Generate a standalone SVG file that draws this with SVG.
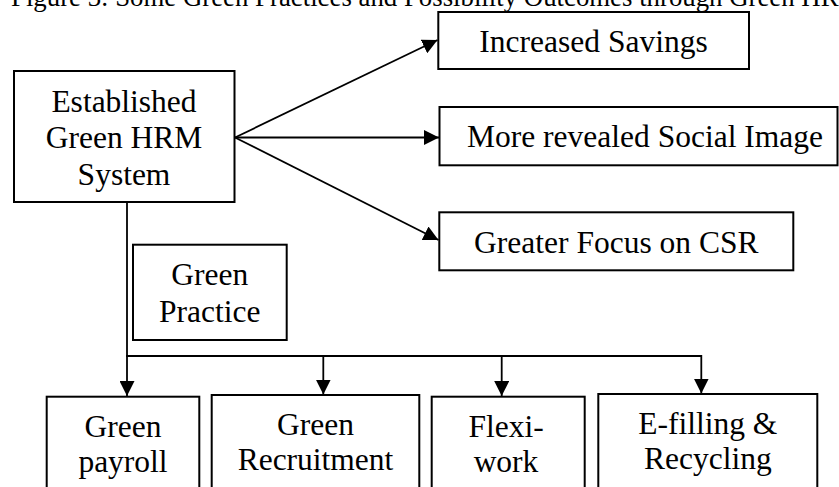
<svg xmlns="http://www.w3.org/2000/svg" width="839" height="487" viewBox="0 0 839 487">
<style>
  .box { fill: #ffffff; stroke: #000000; stroke-width: 2; }
  .lbl { font-family: "Liberation Serif", "Times New Roman", serif; font-size: 31.5px; fill: #000000; text-anchor: middle; }
  .title { font-family: "Liberation Serif", "Times New Roman", serif; font-size: 26.8px; fill: #000000; }
  .con { fill: none; stroke: #000000; stroke-width: 1.8; }
  .arr { marker-end: url(#ah); }
</style>
<defs>
  <marker id="ah" markerUnits="userSpaceOnUse" markerWidth="15" markerHeight="15" viewBox="0 0 15 15" refX="15" refY="7.5" orient="auto">
    <path d="M0,0 L15,7.5 L0,15 z" fill="#000000"/>
  </marker>
</defs>
<rect width="839" height="487" fill="#ffffff"/>
<text class="title" x="11" y="6">Figure 3: Some Green Practices and Possibility Outcomes through Green HRM</text>

<g id="connectors">
  <line class="con arr" x1="235" y1="137.5" x2="437.5" y2="40"/>
  <line class="con arr" x1="235" y1="137.5" x2="439" y2="137.5"/>
  <line class="con arr" x1="235" y1="137.5" x2="438.5" y2="240"/>
  <line class="con arr" x1="127" y1="202" x2="127" y2="396"/>
  <line class="con" x1="126" y1="356" x2="702" y2="356"/>
  <line class="con arr" x1="323.3" y1="356" x2="323.3" y2="394.5"/>
  <line class="con arr" x1="501.7" y1="355" x2="501.7" y2="396"/>
  <line class="con arr" x1="701.3" y1="355" x2="701.3" y2="393.5"/>
</g>

<g id="established">
  <rect class="box" x="14" y="71" width="220.5" height="131"/>
  <text class="lbl" x="124" y="111.5">Established</text>
  <text class="lbl" x="124" y="148">Green HRM</text>
  <text class="lbl" x="124" y="185">System</text>
</g>

<g id="increased-savings">
  <rect class="box" x="438.3" y="12" width="310.7" height="57"/>
  <text class="lbl" x="593.5" y="51.5">Increased Savings</text>
</g>

<g id="social-image">
  <rect class="box" x="439.5" y="107" width="398" height="58.3"/>
  <text class="lbl" x="645" y="146.7">More revealed Social Image</text>
</g>

<g id="csr">
  <rect class="box" x="439.3" y="212.3" width="354" height="58"/>
  <text class="lbl" x="616.3" y="252.7">Greater Focus on CSR</text>
</g>

<g id="green-practice">
  <rect class="box" x="133" y="244.7" width="153.7" height="95.3"/>
  <text class="lbl" x="209.8" y="285">Green</text>
  <text class="lbl" x="209.8" y="321.7">Practice</text>
</g>

<g id="green-payroll">
  <rect class="box" x="46.7" y="396.7" width="152.6" height="110"/>
  <text class="lbl" x="123" y="436.7">Green</text>
  <text class="lbl" x="123" y="471.7">payroll</text>
</g>

<g id="green-recruitment">
  <rect class="box" x="211.7" y="395" width="207.6" height="110"/>
  <text class="lbl" x="315.5" y="435">Green</text>
  <text class="lbl" x="315.5" y="470">Recruitment</text>
</g>

<g id="flexi-work">
  <rect class="box" x="431.7" y="396.7" width="153" height="110"/>
  <text class="lbl" x="506" y="436.7">Flexi-</text>
  <text class="lbl" x="506" y="471.7">work</text>
</g>

<g id="e-filling">
  <rect class="box" x="598.3" y="394" width="219" height="110"/>
  <text class="lbl" x="707.8" y="434.3">E-filling &amp;</text>
  <text class="lbl" x="707.8" y="469.3">Recycling</text>
</g>
</svg>
